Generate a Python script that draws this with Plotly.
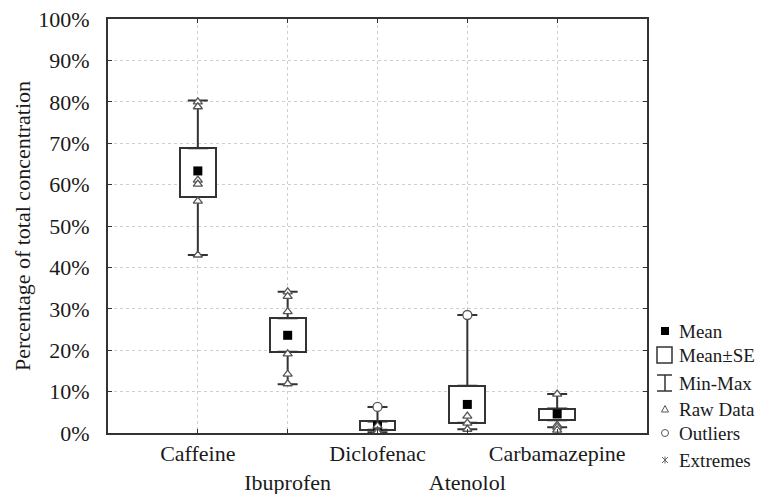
import plotly.graph_objects as go

categories = ["Caffeine", "Ibuprofen", "Diclofenac", "Atenolol", "Carbamazepine"]
tick_labels = ["Caffeine", "<br>Ibuprofen", "Diclofenac", "<br>Atenolol", "Carbamazepine"]
positions = [1, 2, 3, 4, 5]
mean_vals = [63.3, 23.6, 1.7, 6.9, 4.6]
se_low = [57.0, 19.6, 0.8, 2.5, 3.1]
se_high = [68.8, 27.7, 2.8, 11.4, 5.9]
min_vals = [43.0, 11.8, 0.2, 0.9, 1.4]
max_vals = [80.3, 34.1, 6.3, 28.5, 9.4]
raw_data = {
    "Caffeine": [80.0, 78.8, 61.1, 60.1, 56.0, 43.0],
    "Ibuprofen": [34.1, 33.0, 29.3, 19.1, 14.2, 11.9],
    "Diclofenac": [1.7, 0.5, 0.2],
    "Atenolol": [4.1, 2.4, 0.9],
    "Carbamazepine": [9.4, 1.9, 1.4, 0.7],
}
outliers = {"Diclofenac": [6.3], "Atenolol": [28.5]}
y_ticks = list(range(0, 101, 10))
y_tick_labels = [f"{v}%" for v in y_ticks]

FONT = "Liberation Serif, Times New Roman, serif"
LINE = "#333333"
TXT = "#1a1a1a"
GRID = "#cfcfcf"
W, H = 764, 494
ML, MR, MT, MB = 108, 117, 19, 61

fig = go.Figure()

# Boxes (Mean ± SE) as bars from se_low to se_high
fig.add_trace(go.Bar(
    x=positions, y=[h - l for h, l in zip(se_high, se_low)], base=se_low,
    width=0.4, marker=dict(color="white", line=dict(color=LINE, width=2)),
    showlegend=False, hoverinfo="skip"))

# Upper whiskers
fig.add_trace(go.Scatter(
    x=positions, y=se_high, mode="markers",
    marker=dict(size=1, color="rgba(0,0,0,0)"),
    error_y=dict(type="data", symmetric=False,
                 array=[m - h for m, h in zip(max_vals, se_high)],
                 arrayminus=[0] * 5, color=LINE, thickness=2, width=10),
    showlegend=False, hoverinfo="skip"))
# Lower whiskers
fig.add_trace(go.Scatter(
    x=positions, y=se_low, mode="markers",
    marker=dict(size=1, color="rgba(0,0,0,0)"),
    error_y=dict(type="data", symmetric=False, array=[0] * 5,
                 arrayminus=[l - m for l, m in zip(se_low, min_vals)],
                 color=LINE, thickness=2, width=10),
    showlegend=False, hoverinfo="skip"))

# Means
fig.add_trace(go.Scatter(
    x=positions, y=mean_vals, mode="markers",
    marker=dict(symbol="square", size=9, color="black"),
    showlegend=False, hoverinfo="skip"))

# Raw data
rx, ry = [], []
for p, c in zip(positions, categories):
    for v in raw_data[c]:
        rx.append(p)
        ry.append(v)
fig.add_trace(go.Scatter(
    x=rx, y=ry, mode="markers",
    marker=dict(symbol="triangle-up", size=8, color="white",
                line=dict(color="#555555", width=1.3)),
    showlegend=False, hoverinfo="skip"))

# Outliers
ox, oy = [], []
for p, c in zip(positions, categories):
    for v in outliers.get(c, []):
        ox.append(p)
        oy.append(v)
fig.add_trace(go.Scatter(
    x=ox, y=oy, mode="markers",
    marker=dict(symbol="circle", size=9, color="white",
                line=dict(color="#555555", width=1.3)),
    showlegend=False, hoverinfo="skip"))

pw, ph = W - ML - MR, H - MT - MB


def px_x(px):
    return (px - ML) / pw


def px_y(py):
    return (H - MB - py) / ph


shapes = []
annotations = []
sym_x = px_x(665)
txt_x = px_x(677)
legend_items = [("Mean", 331), ("Mean±SE", 355), ("Min-Max", 383),
                ("Raw Data", 409), ("Outliers", 433), ("Extremes", 460)]
for label, py in legend_items:
    annotations.append(dict(x=txt_x, y=px_y(py), xref="paper", yref="paper",
                            text=label, showarrow=False, xanchor="left",
                            yanchor="middle",
                            font=dict(family=FONT, size=19, color=TXT)))

def pshape(kind, py, x0, x1, y0, y1, **kw):
    d = dict(type=kind, xref="paper", yref="paper", xsizemode="pixel",
             ysizemode="pixel", xanchor=sym_x, yanchor=px_y(py),
             x0=x0, x1=x1, y0=y0, y1=y1, layer="above")
    d.update(kw)
    return d

shapes.append(pshape("rect", 331, -4, 4, -4, 4, fillcolor="black",
                     line=dict(color="black", width=0)))
shapes.append(pshape("rect", 355, -8, 7, -8, 8, fillcolor="white",
                     line=dict(color=LINE, width=1.5)))
shapes.append(pshape("line", 383, -8, 7, 8, 8, line=dict(color=LINE, width=1.5)))
shapes.append(pshape("line", 383, -8, 7, -8, -8, line=dict(color=LINE, width=1.5)))
shapes.append(pshape("line", 383, 0, 0, -8, 8, line=dict(color=LINE, width=1.5)))
shapes.append(dict(type="path", xref="paper", yref="paper", xsizemode="pixel",
                   ysizemode="pixel", xanchor=sym_x, yanchor=px_y(409),
                   path="M -3.5 -3 L 3.5 -3 L 0 3.5 Z", fillcolor="white",
                   line=dict(color="#555555", width=1)))
shapes.append(pshape("circle", 433, -3.5, 3.5, -3.5, 3.5, fillcolor="white",
                     line=dict(color="#555555", width=1)))
for a, b, c, d in [(-3, -3, 3, 3), (-3, 3, 3, -3), (0, -3.5, 0, 3.5)]:
    shapes.append(pshape("line", 460, a, c, b, d, line=dict(color="#666666", width=1)))

fig.update_layout(
    width=W, height=H,
    margin=dict(l=ML, r=MR, t=MT, b=MB, autoexpand=False),
    paper_bgcolor="white", plot_bgcolor="white",
    font=dict(family=FONT, size=22, color=TXT),
    bargap=0, shapes=shapes, annotations=annotations,
    xaxis=dict(range=[0, 6], tickvals=positions, ticktext=tick_labels,
               tickangle=0, automargin=False,
               showgrid=True, gridcolor=GRID, griddash="dot", gridwidth=1,
               showline=True, linecolor=LINE, linewidth=1.8, mirror="ticks",
               ticks="inside", ticklen=4, tickcolor=LINE, zeroline=False,
               ticklabelstandoff=0,
               tickfont=dict(family=FONT, size=22, color=TXT)),
    yaxis=dict(range=[0, 100], tickvals=y_ticks, ticktext=y_tick_labels,
               automargin=False,
               showgrid=True, gridcolor=GRID, griddash="dot", gridwidth=1,
               showline=True, linecolor=LINE, linewidth=1.8, mirror="ticks",
               ticks="inside", ticklen=4, tickcolor=LINE, zeroline=False,
               ticklabelstandoff=12,
               title=dict(text="Percentage of total concentration",
                          font=dict(family=FONT, size=22, color=TXT),
                          standoff=2),
               tickfont=dict(family=FONT, size=22, color=TXT)),
)

fig.write_html("out.html", config={"displayModeBar": False},
               post_script="document.body.style.margin='0';")
